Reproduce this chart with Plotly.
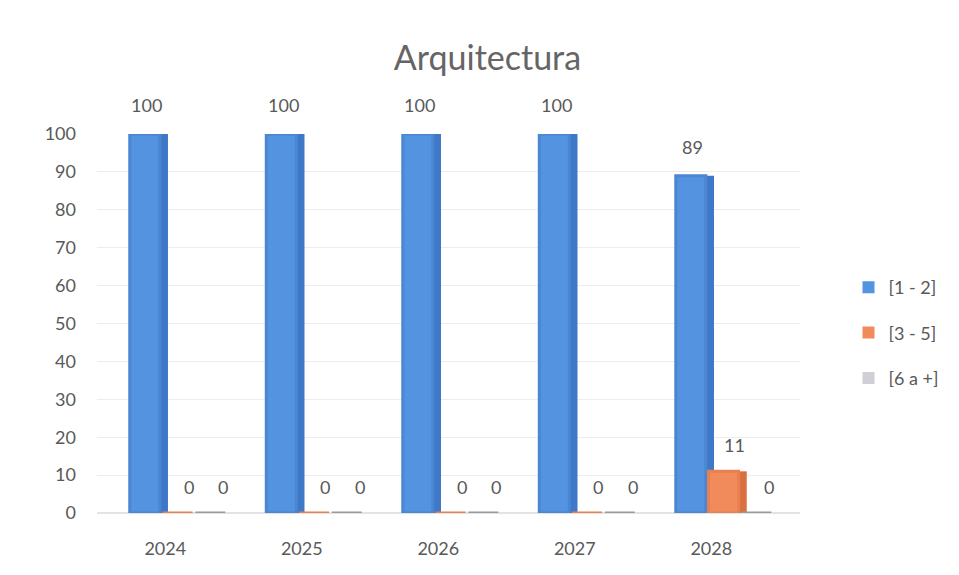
import plotly.graph_objects as go

years = ["2024", "2025", "2026", "2027", "2028"]
s_1_2 = [100, 100, 100, 100, 89]
s_3_5 = [0, 0, 0, 0, 11]
s_6_plus = [0, 0, 0, 0, 0]
series_names = ["[1 - 2]", "[3 - 5]", "[6 a +]"]
y_ticks = list(range(0, 101, 10))

colors = ["#5393E0", "#F28B5B", "#ABABB3"]
side_colors = ["#3F78C8", "#D9703F", "#97979F"]
edge = ["#4A86D2", "#E8804F", "#9A9AA2"]
legend_colors = ["#5393E0", "#F28B5B", "#CFCFD6"]
offsets = [-0.26, -0.02, 0.22]
bar_w = 0.22
side_w = 0.07
label_xshift = [2, 11, 13]
font_fam = "Lato, 'Open Sans', sans-serif"
txt = "#595959"

fig = go.Figure()
all_series = [s_1_2, s_3_5, s_6_plus]
for k, (name, vals) in enumerate(zip(series_names, all_series)):
    # darker side face (pseudo-3D)
    fig.add_trace(go.Bar(
        x=years, y=vals, name=name, legendgroup=name,
        marker=dict(color=side_colors[k], line=dict(width=0)),
        offset=offsets[k] + bar_w - 0.01, width=side_w,
        cliponaxis=False, showlegend=False, hoverinfo="skip",
    ))
    # front face
    fig.add_trace(go.Bar(
        x=years, y=vals, name=name, legendgroup=name,
        marker=dict(color=colors[k], line=dict(color=edge[k], width=3)),
        offset=offsets[k], width=bar_w,
        cliponaxis=False, showlegend=False, hoverinfo="x+y+name",
    ))
    # legend proxy with lighter swatch
    fig.add_trace(go.Bar(
        x=[None], y=[None], name=name, legendgroup=name,
        marker=dict(color=legend_colors[k], line=dict(width=0)),
        showlegend=True,
    ))

annotations = []
for k, vals in enumerate(all_series):
    for i, v in enumerate(vals):
        annotations.append(dict(
            x=i + offsets[k] + bar_w / 2, y=v, xref="x", yref="y",
            text=str(v), showarrow=False, xanchor="center", yanchor="middle",
            xshift=label_xshift[k], yshift=29 if v > 50 else 26,
            font=dict(size=18, color=txt, family=font_fam),
        ))

fig.update_layout(
    width=959, height=575,
    paper_bgcolor="white", plot_bgcolor="white",
    margin=dict(l=89, r=167, t=126, b=70),
    title=dict(text="Arquitectura", x=0.5, xanchor="center", y=0.913, yanchor="middle",
               font=dict(size=34, color="#656565", family=font_fam)),
    font=dict(family=font_fam, color=txt),
    showlegend=True,
    legend=dict(x=1.069, xanchor="left", y=0.475, yanchor="middle",
                font=dict(size=18, color=txt, family=font_fam),
                itemsizing="constant", tracegroupgap=19, bgcolor="rgba(0,0,0,0)"),
    barmode="overlay",
    annotations=annotations,
    xaxis=dict(type="category", range=[-0.5, 4.65], showgrid=False, showline=False,
               ticks="", tickfont=dict(size=18, color=txt), ticklabelstandoff=23),
    yaxis=dict(range=[0, 100], tickvals=y_ticks, showgrid=True, gridcolor="#EDEDED",
               zeroline=True, zerolinecolor="#E3E3E3", showline=False, ticks="",
               tickfont=dict(size=18, color=txt), ticklabelstandoff=20),
)

fig.write_html("out.html")
